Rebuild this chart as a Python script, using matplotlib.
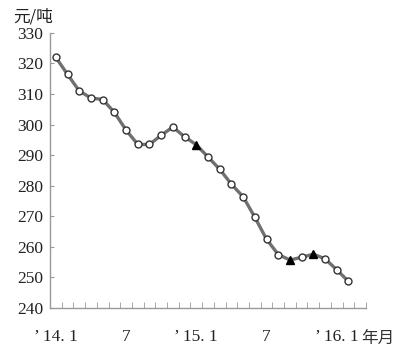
import numpy as np
import matplotlib.pyplot as plt

# monthly price, Jan 2014 .. Feb 2016 (yuan / ton)
prices = [322.0, 316.4, 311.0, 308.7, 308.2, 304.0, 298.2, 293.5, 293.5, 296.5,
          299.2, 296.0, 293.4, 289.4, 285.4, 280.5, 276.4, 269.7, 262.5, 257.5,
          255.7, 256.6, 257.6, 256.1, 252.5, 248.7]
triangle_idx = [12, 20, 22]
x_label_pos = [0, 6, 12, 18, 24]
x_labels = ["\u2019 14. 1", "7", "\u2019 15. 1", "7", "\u2019 16. 1"]
y_ticks = [240, 250, 260, 270, 280, 290, 300, 310, 320, 330]

fam = ["Liberation Serif", "Noto Sans CJK SC", "DejaVu Sans"]
plt.rcParams["font.family"] = fam

fig = plt.figure(figsize=(4, 3.55), dpi=100)
ax = fig.add_axes([0.125, 0.1324, 0.79, 0.775])

x = np.arange(len(prices))
ax.plot(x, prices, color="#707070", lw=2.4, zorder=2)
circ = [i for i in x if i not in triangle_idx]
ax.plot(circ, [prices[i] for i in circ], ls="none", marker="o", ms=5,
        mfc="white", mec="#333333", mew=1.0, zorder=3)
ax.plot(triangle_idx, [prices[i] for i in triangle_idx], ls="none", marker="^",
        ms=5.5, mfc="black", mec="black", zorder=3)

ax.set_xlim(-0.5, 26.5)
ax.set_ylim(240, 330)

for s in ["top", "right"]:
    ax.spines[s].set_visible(False)
for s in ["left", "bottom"]:
    ax.spines[s].set_color("#999999")
    ax.spines[s].set_linewidth(1.0)

ax.set_yticks(y_ticks)
ax.set_yticklabels([str(v) for v in y_ticks], fontsize=12.5, color="#222222")
ax.tick_params(axis="y", direction="in", length=3, color="#999999", pad=5)

ax.set_xticks(np.arange(-0.5, 27, 1.0), minor=True)
ax.set_xticks(x_label_pos)
ax.set_xticklabels(x_labels, fontsize=12.5, color="#222222")
ax.tick_params(axis="x", which="major", length=0, pad=15)
ax.tick_params(axis="x", which="minor", direction="in", length=4, color="#999999")

fig.text(13 / 400, 1 - 17 / 355, "元/吨", fontsize=12, va="center", ha="left",
         family=["Noto Sans CJK SC", "DejaVu Sans"], color="#222222")
fig.text(378 / 400, 1 - 338 / 355, "年月", fontsize=12, va="center", ha="center",
         family=["Noto Sans CJK SC", "DejaVu Sans"], color="#333333")

fig.savefig("out.png", dpi=100)
